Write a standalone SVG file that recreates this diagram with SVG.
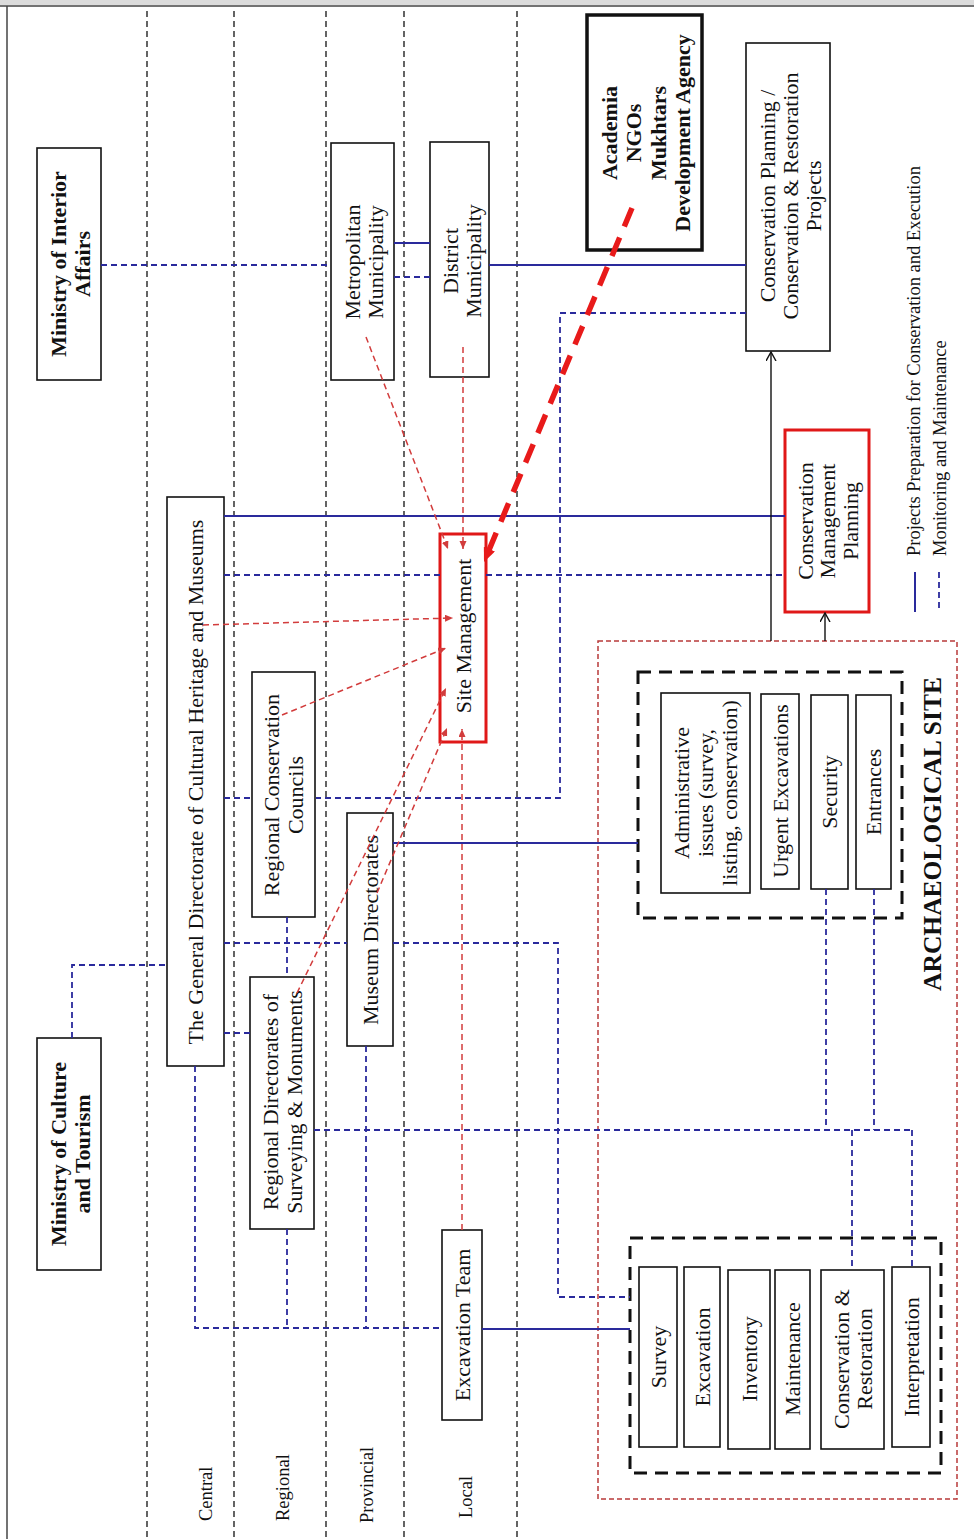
<svg xmlns="http://www.w3.org/2000/svg" width="974" height="1539" viewBox="0 0 974 1539">
<defs>
<style>
.lane{stroke:#111;stroke-width:1.3;stroke-dasharray:6 4;fill:none}
.box{fill:#fff;stroke:#111;stroke-width:1.6}
.boxk{fill:#fff;stroke:#111;stroke-width:3.5}
.boxr{fill:#fff;stroke:#e01818;stroke-width:3}
.grp{fill:none;stroke:#111;stroke-width:3;stroke-dasharray:13 8}
.site{fill:none;stroke:#b83a3a;stroke-width:1.5;stroke-dasharray:5 3}
.bd{fill:none;stroke:#2a2a9c;stroke-width:1.8;stroke-dasharray:6 4}
.bs{fill:none;stroke:#2a2a9c;stroke-width:2}
.rd{fill:none;stroke:#d23c3c;stroke-width:1.5;stroke-dasharray:6 4}
.rt{fill:none;stroke:#e81a1a;stroke-width:5.5;stroke-dasharray:20 12}
.ka{fill:none;stroke:#111;stroke-width:1.4}
text{font-family:"Liberation Serif","Times New Roman",serif;fill:#111}
.t{font-size:22px;text-anchor:middle;dominant-baseline:central}
.b{font-size:22px;font-weight:bold;text-anchor:middle;dominant-baseline:central}
.big{font-size:25.5px;font-weight:bold;text-anchor:middle;dominant-baseline:central}
.s{font-size:18.5px;text-anchor:start;dominant-baseline:central}
</style>
<marker id="ar" markerUnits="userSpaceOnUse" markerWidth="9" markerHeight="8" refX="8" refY="3.5" orient="auto"><path d="M0,0 L8,3.5 L0,7 z" fill="#d23c3c"/></marker>
<marker id="arb" markerUnits="userSpaceOnUse" markerWidth="16" markerHeight="14" refX="14" refY="6" orient="auto"><path d="M0,0 L14,6 L0,12 z" fill="#e81a1a"/></marker>
<marker id="ak" markerUnits="userSpaceOnUse" markerWidth="10" markerHeight="12" refX="9" refY="5" orient="auto"><path d="M0,0 L9,5 L0,10" fill="none" stroke="#111" stroke-width="1.4"/></marker>
</defs>
<rect x="0" y="0" width="974" height="1539" fill="#fff"/>
<g id="frame">
<rect x="0" y="0" width="974" height="5" fill="#dcdcdc"/>
<line x1="0" y1="6" x2="974" y2="6" stroke="#444" stroke-width="1.5"/>
<line x1="7" y1="6" x2="7" y2="1539" stroke="#444" stroke-width="1.5"/>
</g>
<g id="lanes">
<line class="lane" x1="147" y1="11" x2="147" y2="1539"/>
<line class="lane" x1="234" y1="11" x2="234" y2="1539"/>
<line class="lane" x1="326" y1="11" x2="326" y2="1539"/>
<line class="lane" x1="404" y1="11" x2="404" y2="1539"/>
<line class="lane" x1="517" y1="11" x2="517" y2="1539"/>
<text class="s" transform="translate(206,1521) rotate(-90)">Central</text>
<text class="s" transform="translate(283,1521) rotate(-90)">Regional</text>
<text class="s" transform="translate(367,1523) rotate(-90)">Provincial</text>
<text class="s" transform="translate(466,1518) rotate(-90)">Local</text>
</g>
<g id="n-moi"><rect class="box" x="37" y="148" width="64" height="232"/>
<text class="b" transform="translate(70,264) rotate(-90)"><tspan x="0" y="-12">Ministry of Interior</tspan><tspan x="0" y="12">Affairs</tspan></text></g>
<g id="n-moct"><rect class="box" x="37" y="1038" width="64" height="232"/>
<text class="b" transform="translate(70,1154) rotate(-90)"><tspan x="0" y="-12">Ministry of Culture</tspan><tspan x="0" y="12">and Tourism</tspan></text></g>
<g id="n-metro"><rect class="box" x="331" y="143" width="63" height="237"/>
<text class="t" transform="translate(363,262) rotate(-90)"><tspan x="0" y="-11.5">Metropolitan</tspan><tspan x="0" y="11.5">Municipality</tspan></text></g>
<g id="n-district"><rect class="box" x="430" y="142" width="59" height="235"/>
<text class="t" transform="translate(461,261) rotate(-90)"><tspan x="0" y="-11.5">District</tspan><tspan x="0" y="11.5">Municipality</tspan></text></g>
<g id="n-academia"><rect class="boxk" x="587" y="15" width="115" height="235"/>
<text class="b" transform="translate(645.5,133) rotate(-90)"><tspan x="0" y="-36.75">Academia</tspan><tspan x="0" y="-12.25">NGOs</tspan><tspan x="0" y="12.25">Mukhtars</tspan><tspan x="0" y="36.75">Development Agency</tspan></text></g>
<g id="n-cprp"><rect class="box" x="746" y="43" width="84" height="308"/>
<text class="t" transform="translate(790,196) rotate(-90)"><tspan x="0" y="-23">Conservation Planning /</tspan><tspan x="0" y="0">Conservation &amp; Restoration</tspan><tspan x="0" y="23">Projects</tspan></text></g>
<g id="n-gd"><rect class="box" x="167" y="497" width="57" height="569"/>
<text class="t" transform="translate(195.5,782) rotate(-90)">The General Directorate of Cultural Heritage and Museums</text></g>
<g id="n-sm"><rect class="boxr" x="440" y="534" width="46" height="208"/>
<text class="t" transform="translate(463,636) rotate(-90)">Site Management</text></g>
<g id="n-cmp"><rect class="boxr" x="785" y="430" width="84" height="182"/>
<text class="t" transform="translate(827,521) rotate(-90)"><tspan x="0" y="-22.5">Conservation</tspan><tspan x="0" y="0">Management</tspan><tspan x="0" y="22.5">Planning</tspan></text></g>
<g id="n-rcc"><rect class="box" x="252" y="672" width="63" height="245"/>
<text class="t" transform="translate(283,795) rotate(-90)"><tspan x="0" y="-12">Regional Conservation</tspan><tspan x="0" y="12">Councils</tspan></text></g>
<g id="n-rdsm"><rect class="box" x="250" y="977" width="64" height="252"/>
<text class="t" transform="translate(282,1102) rotate(-90)"><tspan x="0" y="-12">Regional Directorates of</tspan><tspan x="0" y="12">Surveying &amp; Monuments</tspan></text></g>
<g id="n-museum"><rect class="box" x="347" y="813" width="46" height="233"/>
<text class="t" transform="translate(370,930) rotate(-90)">Museum Directorates</text></g>
<g id="n-exteam"><rect class="box" x="442" y="1230" width="40" height="190"/>
<text class="t" transform="translate(462,1325) rotate(-90)">Excavation Team</text></g>
<g id="n-site"><rect class="site" x="598" y="641" width="359" height="858"/>
<text class="big" transform="translate(932,834) rotate(-90)">ARCHAEOLOGICAL SITE</text></g>
<g id="n-group1"><rect class="grp" x="638" y="672" width="264" height="246"/>
<rect class="box" x="661" y="693" width="89" height="200"/>
<text class="t" transform="translate(705,793) rotate(-90)"><tspan x="0" y="-24">Administrative</tspan><tspan x="0" y="0">issues (survey,</tspan><tspan x="0" y="24">listing, conservation)</tspan></text>
<rect class="box" x="761" y="694" width="38" height="195"/>
<text class="t" transform="translate(780,791) rotate(-90)">Urgent Excavations</text>
<rect class="box" x="811" y="695" width="37" height="194"/>
<text class="t" transform="translate(829.5,792) rotate(-90)">Security</text>
<rect class="box" x="856" y="695" width="35" height="194"/>
<text class="t" transform="translate(873.5,792) rotate(-90)">Entrances</text></g>
<g id="n-group2"><rect class="grp" x="630" y="1238" width="311" height="235"/>
<rect class="box" x="639" y="1267" width="38" height="180"/>
<text class="t" transform="translate(658,1357) rotate(-90)">Survey</text>
<rect class="box" x="684" y="1267" width="36" height="180"/>
<text class="t" transform="translate(702,1357) rotate(-90)">Excavation</text>
<rect class="box" x="728" y="1270" width="42" height="179"/>
<text class="t" transform="translate(749,1359) rotate(-90)">Inventory</text>
<rect class="box" x="775" y="1270" width="35" height="179"/>
<text class="t" transform="translate(792.5,1359) rotate(-90)">Maintenance</text>
<rect class="box" x="821" y="1270" width="63" height="179"/>
<text class="t" transform="translate(852.5,1359) rotate(-90)"><tspan x="0" y="-11.5">Conservation &amp;</tspan><tspan x="0" y="11.5">Restoration</tspan></text>
<rect class="box" x="892" y="1267" width="38" height="180"/>
<text class="t" transform="translate(911,1357) rotate(-90)">Interpretation</text></g>
<g id="legend">
<line class="bs" x1="915" y1="572" x2="915" y2="612"/>
<line class="bd" x1="939" y1="572" x2="939" y2="612"/>
<text class="s" transform="translate(914,556) rotate(-90)">Projects Preparation for Conservation and Execution</text>
<text class="s" transform="translate(940,556) rotate(-90)">Monitoring and Maintenance</text>
</g>
<g id="connectors">
<path class="bd" d="M101,265 H331"/>
<path class="bd" d="M394,277 H430"/>
<path class="bd" d="M746,313 H560 V798 H316"/>
<path class="bd" d="M224,798 H252"/>
<path class="bd" d="M224,575 H440"/>
<path class="bd" d="M486,575 H785"/>
<path class="bd" d="M72,1038 V965 H167"/>
<path class="bd" d="M224,1033 H250"/>
<path class="bd" d="M224,943 H347"/>
<path class="bd" d="M393,943 H558 V1297 H630"/>
<path class="bd" d="M287,917 V977"/>
<path class="bd" d="M195,1066 V1328 H442"/>
<path class="bd" d="M287,1229 V1328"/>
<path class="bd" d="M366,1046 V1328"/>
<path class="bd" d="M314,1130 H912"/>
<path class="bd" d="M826,889 V1130"/>
<path class="bd" d="M874,889 V1130"/>
<path class="bd" d="M852,1130 V1270"/>
<path class="bd" d="M912,1130 V1267"/>
<path class="bs" d="M394,243 H430"/>
<path class="bs" d="M489,265 H746"/>
<path class="bs" d="M224,516 H785"/>
<path class="bs" d="M393,843 H638"/>
<path class="bs" d="M482,1329 H630"/>
<path class="ka" d="M771,641 V352" marker-end="url(#ak)"/>
<path class="ka" d="M825,641 V613" marker-end="url(#ak)"/>
<path class="rd" d="M366,337 L448,549" marker-end="url(#ar)"/>
<path class="rd" d="M463,347 V549" marker-end="url(#ar)"/>
<path class="rd" d="M203,625 L453,618" marker-end="url(#ar)"/>
<path class="rd" d="M282,715 L446,648" marker-end="url(#ar)"/>
<path class="rd" d="M297,993 L446,688" marker-end="url(#ar)"/>
<path class="rd" d="M377,893 L447,728" marker-end="url(#ar)"/>
<path class="rd" d="M462,1230 V729" marker-end="url(#ar)"/>
<path class="rt" d="M632,208 L484,562" marker-end="url(#arb)"/>
</g>
</svg>
